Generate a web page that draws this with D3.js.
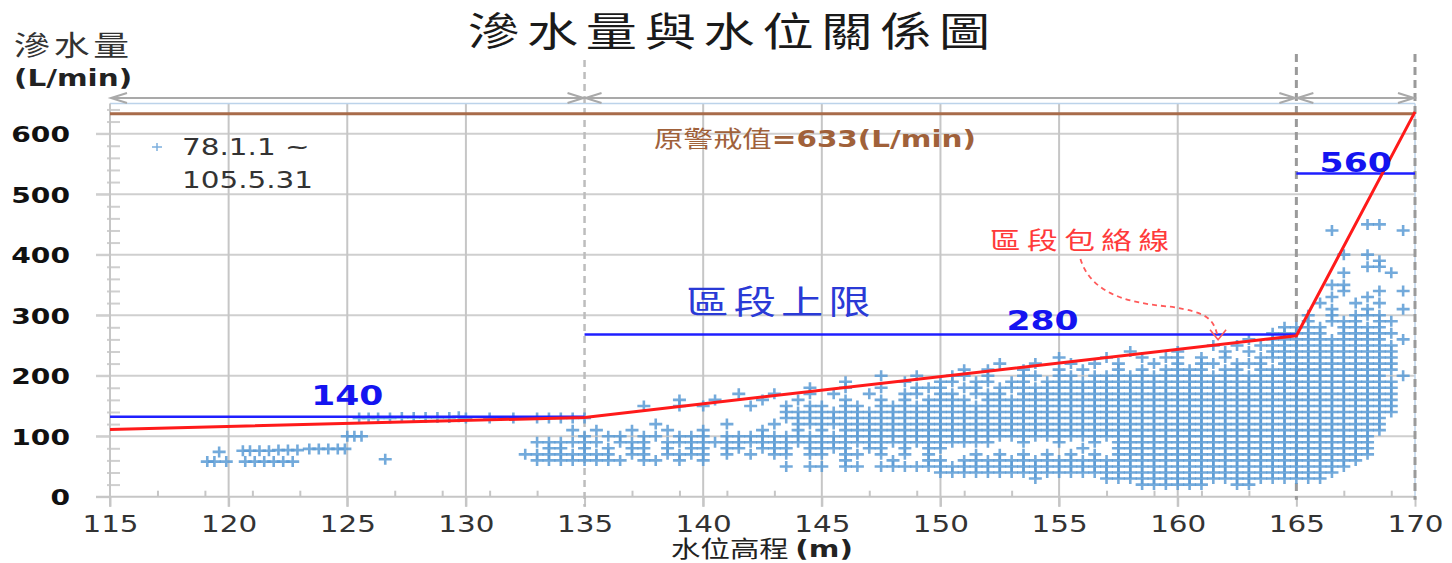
<!DOCTYPE html>
<html>
<head>
<meta charset="utf-8">
<title>滲水量與水位關係圖</title>
<script src="https://d3js.org/d3.v7.min.js"></script>
<style>
  body { margin: 0; background: #fff; }
  svg { display: block; }
</style>
</head>
<body>
<svg id="chart" width="1452" height="563"></svg>
<script>
// ---------------- data ----------------
var xTicks = [115, 120, 125, 130, 135, 140, 145, 150, 155, 160, 165, 170];
var xMinor = [117, 119, 121, 123, 127, 129, 131, 133, 137, 139, 141, 143, 147, 149,
              151, 153, 157, 159, 161, 163, 167, 169];
var yTicks = [0, 100, 200, 300, 400, 500, 600];
var yMinor = [20, 40, 60, 80, 120, 140, 160, 180, 220, 240, 260, 280, 320, 340, 360, 380,
              420, 440, 460, 480, 520, 540, 560, 580, 620, 640];

var segBreaks = [115, 135, 165, 170];
var segLimits = [132, 268, 534];          // level where each 區段上限 line is drawn
var segLabels = ["140", "280", "560"];

var envelopeX = [115, 135, 165, 170];
var envelopeY = [111, 131, 266, 636];

var alarmValue = 633;

// isolated points (water level m, seepage L/min)
var sparsePts = [
  [119.1, 58], [119.4, 58], [119.9, 58], [119.6, 74],
  [120.7, 58], [121.1, 58], [121.5, 58], [121.9, 58], [122.3, 58], [122.7, 58],
  [120.6, 76], [120.9, 76], [121.3, 76], [121.7, 76], [122.1, 77], [122.5, 77], [122.9, 77],
  [123.4, 79], [123.8, 79], [124.2, 79], [124.6, 79], [124.9, 79],
  [125.0, 100], [125.3, 100], [125.6, 100], [126.6, 62],
  [125.5, 130], [125.9, 130], [126.3, 130], [126.8, 130], [127.3, 131], [127.8, 131],
  [128.3, 131], [128.8, 131], [129.3, 131], [129.7, 132]
];

// dense cloud read row by row: one char per 0.5 m from 130.0 m, '+' = point
var cloudX0 = 130, cloudStep = 0.5;
var cloudRows = [
  [450, ".......... .......... .......... .......... .......... .......... .......... ......++.."],
  [440, ".......... .......... .......... .......... .......... .......... .......... ...+.....+"],
  [400, ".......... .......... .......... .......... .......... .......... .......... ....+.+..."],
  [390, ".......... .......... .......... .......... .......... .......... .......... .......+.."],
  [380, ".......... .......... .......... .......... .......... .......... .......... ......++.."],
  [370, ".......... .......... .......... .......... .......... .......... .......... ....+...+."],
  [350, ".......... .......... .......... .......... .......... .......... .......... ...++....."],
  [340, ".......... .......... .......... .......... .......... .......... .......... ....+..+.+"],
  [330, ".......... .......... .......... .......... .......... .......... .......... ...+..+..."],
  [320, ".......... .......... .......... .......... .......... .......... .......... ..+..+.+.."],
  [310, ".......... .......... .......... .......... .......... .......... .......... ...+..+..+"],
  [300, ".......... .......... .......... .......... .......... .......... .......... .+.+.+++.."],
  [290, ".......... .......... .......... .......... .......... .......... .......... .+.+++.++."],
  [280, ".......... .......... .......... .......... .......... .......... .........+ +++.++++.."],
  [270, ".......... .......... .......... .......... .......... .......... ........++ +++.+++++."],
  [260, ".......... .......... .......... .......... .......... .......... ......+.++ ++++++++.+"],
  [250, ".......... .......... .......... .......... .......... .......... ...+.+.+++ +++++++++."],
  [240, ".......... .......... .......... .......... .......... ......+... +...+.+.++ +++++++++."],
  [230, ".......... .......... .......... .......... .......... +...+..+.+ +.+.+..+++ +++++++++."],
  [220, ".......... .......... .......... .......... .....+..+. .+.+.+..+. +.++.+++.+ +++++++++."],
  [210, ".......... .......... .......... .......... ..+.+..+.. +.+..+.+.+ +++.++.+++ +++++++++."],
  [200, ".......... .......... .......... .....+..+. .++.+..++. ++.+++++++ ++++++++++ ++++++++.+"],
  [190, ".......... .......... .......... ..+....+.. ++.++.++.+ ++++++++++ ++++++++++ +++++++++."],
  [180, ".......... .......... .........+ ..+..+..++ +.++.+++++ ++++++++++ ++++++++++ +++++++++."],
  [170, ".......... .......... ...+..+..+ .+..+..++. ++.+++.+++ ++++++++++ ++++++++++ +++++++++."],
  [160, ".......... ........+. .+...+..+. ..+..+.+.+ +++.++++++ ++++++++++ ++++++++++ +++++++++."],
  [150, ".......... .....+..+. +...+..+.+ +.++.+++++ ++++++++++ ++++++++++ ++++++++++ +++++++++."],
  [140, ".......... .......... .......+++ ++++++++++ ++++++++++ ++++++++++ ++++++++++ +++++++++."],
  [130, "+.+.+.++++ +......... .......+++ ++++++++++ ++++++++++ ++++++++++ ++++++++++ ++++++++.."],
  [120, ".......... ......+... ..+...+.++ ++++++++++ ++++++++++ ++++++++++ ++++++++++ ++++++++.."],
  [110, ".........+ .+..+..+.. +....+..+. +.++++++++ ++++++++++ ++++++++++ ++++++++++ ++++++++.."],
  [100, ".......... +.++.++.++ +.++++++++ ++++++++++ ++++++++++ ++++++++++ ++++++++++ +++++++..."],
  [90,  "......++++ ++.+++.+++ ++++++++++ ++++++++++ +++++..+.. +..+.+++++ ++++++++++ +++++++..."],
  [80,  ".......++. +.+.++.+.+ +.++.+++.+ +++.++.+.+ +......... ..+..+++++ ++++++++++ +++++++..."],
  [70,  ".....+++++ +++.++.+++ +.+.+.++.+ +.++.+.+.+ ...+.+.+.+ .+.+.+++++ ++++++++++ +++++++..."],
  [60,  "......++++ ++++.++.+. +......... ..+...+..+ +.++++++++ ++++++++++ ++++++++++ ++++++...."],
  [50,  ".......... .......... .......+.+ +.++.+++++ ++++++++++ ++++++++++ ++++++++++ +++++....."],
  [40,  ".......... .......... .......... .......... ++++++++++ ++++++++++ ++++++++++ ++++......"],
  [30,  ".......... .......... .......... .......... ........+. ....++++++ ++++++++++ +++......."],
  [20,  ".......... .......... .......... .......... .......... .......+++ +++..++... .........."]
];

// ---------------- setup ----------------
var SX = 1.28;   // the source picture is stretched horizontally
var CJK = '"Noto Sans CJK TC", "Noto Sans CJK SC", sans-serif';
var LAT = '"DejaVu Sans", "Noto Sans", sans-serif';

var svg = d3.select("#chart");
var x = d3.scaleLinear().domain([115, 170]).range([110, 1415]);
var y = d3.scaleLinear().domain([0, 650]).range([496.7, 103.4]);

function txt(px, py, parts, size, anchor, color) {
  var t = svg.append("text")
    .attr("transform", "translate(" + px + "," + py + ") scale(" + SX + ",1)")
    .attr("text-anchor", anchor || "start")
    .attr("font-size", size)
    .attr("fill", color || "#222");
  parts.forEach(function (p) {
    t.append("tspan")
      .text(p.t)
      .attr("font-family", p.cjk ? CJK : LAT)
      .attr("font-weight", p.b ? "bold" : "normal")
      .attr("letter-spacing", p.ls || 0)
      .attr("font-size", p.size || size);
  });
  return t;
}

// ---------------- grid ----------------
svg.append("g").selectAll("line").data(yTicks.filter(d => d > 0)).enter().append("line")
  .attr("x1", 96).attr("x2", x(170))
  .attr("y1", d => y(d)).attr("y2", d => y(d))
  .attr("stroke", "#cfcfcf").attr("stroke-width", 2);

svg.append("g").selectAll("line").data(xTicks.filter(d => d != 115 && d != 135 && d != 165 && d != 170)).enter().append("line")
  .attr("x1", d => x(d)).attr("x2", d => x(d))
  .attr("y1", y(650)).attr("y2", y(0) + 10)
  .attr("stroke", "#c6c6c6").attr("stroke-width", 2);

// plot border (top / right)
svg.append("line").attr("x1", x(115)).attr("x2", x(170)).attr("y1", y(650)).attr("y2", y(650))
  .attr("stroke", "#bcd3ea").attr("stroke-width", 1.5);
svg.append("line").attr("x1", x(170)).attr("x2", x(170)).attr("y1", y(650)).attr("y2", y(0))
  .attr("stroke", "#bcd3ea").attr("stroke-width", 1.5);

// ---------------- axes ----------------
var xAxis = svg.append("g").attr("transform", "translate(0," + y(0) + ")")
  .call(d3.axisBottom(x).tickValues(xTicks).tickSize(10).tickSizeOuter(0));
xAxis.select(".domain").remove();
xAxis.selectAll(".tick line").attr("stroke", "#c6c6c6").attr("stroke-width", 2);
xAxis.selectAll(".tick text")
  .attr("font-family", LAT).attr("font-size", 23).attr("fill", "#333")
  .attr("y", 35).attr("dy", null)
  .attr("transform", "scale(" + SX + ",1)");

var xMin = svg.append("g").attr("transform", "translate(0," + y(0) + ")")
  .call(d3.axisBottom(x).tickValues(xMinor).tickSize(-6).tickFormat(""));
xMin.select(".domain").remove();
xMin.selectAll(".tick line").attr("stroke", "#c6c6c6").attr("stroke-width", 2);

var yAxis = svg.append("g").attr("transform", "translate(" + x(115) + ",0)")
  .call(d3.axisLeft(y).tickValues(yTicks).tickSize(14).tickSizeOuter(0));
yAxis.select(".domain").remove();
yAxis.selectAll(".tick line").attr("stroke", "#cfcfcf").attr("stroke-width", 2);
yAxis.selectAll(".tick text")
  .attr("font-family", LAT).attr("font-size", 22).attr("font-weight", "bold").attr("fill", "#111")
  .attr("x", 0).attr("y", 8).attr("dy", null)
  .attr("transform", "translate(-40,0) scale(" + SX + ",1)");

var yMin = svg.append("g").attr("transform", "translate(" + (x(115) - 3) + ",0)")
  .call(d3.axisRight(y).tickValues(yMinor).tickSize(13).tickFormat(""));
yMin.select(".domain").remove();
yMin.selectAll(".tick line").attr("stroke", "#cfcfcf").attr("stroke-width", 2);

// axis lines
svg.append("line").attr("x1", 96).attr("x2", x(170)).attr("y1", y(0)).attr("y2", y(0))
  .attr("stroke", "#c6c6c6").attr("stroke-width", 2);
svg.append("line").attr("x1", x(115)).attr("x2", x(115)).attr("y1", y(650)).attr("y2", y(0) + 10)
  .attr("stroke", "#c6c6c6").attr("stroke-width", 2);

// ---------------- segment dividers ----------------
svg.append("line").attr("x1", x(135)).attr("x2", x(135)).attr("y1", 60).attr("y2", y(0) + 10)
  .attr("stroke", "#bdbdbd").attr("stroke-width", 2.5).attr("stroke-dasharray", "7,5");
svg.append("g").selectAll("line").data([165, 170]).enter().append("line")
  .attr("x1", d => x(d)).attr("x2", d => x(d)).attr("y1", 54).attr("y2", y(0) + 3)
  .attr("stroke", "#9a9a9a").attr("stroke-width", 3).attr("stroke-dasharray", "8,5");

// double arrows above the plot
var arrowY = 98;
var arrows = svg.append("g").attr("stroke", "#a9a9a9").attr("stroke-width", 2).attr("fill", "none");
d3.range(segBreaks.length - 1).forEach(function (i) {
  var a = x(segBreaks[i]) + 1, b = x(segBreaks[i + 1]) - 1;
  arrows.append("line").attr("x1", a).attr("x2", b).attr("y1", arrowY).attr("y2", arrowY);
  arrows.append("path").attr("d", "M" + (a + 16) + "," + (arrowY - 5) + "L" + a + "," + arrowY + "L" + (a + 16) + "," + (arrowY + 5));
  arrows.append("path").attr("d", "M" + (b - 16) + "," + (arrowY - 5) + "L" + b + "," + arrowY + "L" + (b - 16) + "," + (arrowY + 5));
});

// ---------------- scatter ----------------
var pts = sparsePts.map(d => ({ x: d[0], y: d[1] }));
cloudRows.forEach(function (r) {
  var s = r[1].replace(/ /g, "");
  for (var i = 0; i < s.length; i++) {
    if (s[i] === "+") pts.push({ x: cloudX0 + i * cloudStep, y: r[0] });
  }
});
svg.append("g").selectAll("path").data(pts).enter().append("path")
  .attr("transform", d => "translate(" + x(d.x) + "," + y(d.y) + ")")
  .attr("d", "M-6.5,0H6.5M0,-5.5V5.5")
  .attr("stroke", "#5b9bd5").attr("stroke-width", 2.6).attr("stroke-opacity", 0.85);

// ---------------- alarm line ----------------
svg.append("line").attr("x1", x(115)).attr("x2", x(170)).attr("y1", y(alarmValue)).attr("y2", y(alarmValue))
  .attr("stroke", "#a86b4a").attr("stroke-width", 3);

// ---------------- segment upper limits ----------------
svg.append("g").selectAll("line").data(segLimits).enter().append("line")
  .attr("x1", (d, i) => x(segBreaks[i])).attr("x2", (d, i) => x(segBreaks[i + 1]))
  .attr("y1", d => y(d)).attr("y2", d => y(d))
  .attr("stroke", "#1f1fff").attr("stroke-width", 2.5);

// ---------------- envelope ----------------
var env = envelopeX.map((d, i) => [d, envelopeY[i]]);
svg.append("path").datum(env)
  .attr("d", d3.line().x(d => x(d[0])).y(d => y(d[1])))
  .attr("fill", "none").attr("stroke", "#ff1a1a").attr("stroke-width", 3);

// curved pointer to the envelope
var p0 = [x(155.9), y(393)], p1 = [x(161.7), y(261)];
var cp = d3.path();
cp.moveTo(p0[0], p0[1]);
cp.bezierCurveTo(p0[0] + 12, p0[1] + 40, p0[0] + 60, p0[1] + 45, p0[0] + 92, p0[1] + 48);
cp.bezierCurveTo(p0[0] + 125, p0[1] + 54, p1[0] - 4, p1[1] - 22, p1[0], p1[1]);
svg.append("path").attr("d", cp.toString())
  .attr("fill", "none").attr("stroke", "#ff5a5a").attr("stroke-width", 1.8).attr("stroke-dasharray", "5,4");
svg.append("path")
  .attr("d", "M" + (p1[0] - 8) + "," + (p1[1] - 9) + "L" + p1[0] + "," + (p1[1] + 1) + "L" + (p1[0] + 8) + "," + (p1[1] - 9))
  .attr("fill", "none").attr("stroke", "#ff5a5a").attr("stroke-width", 1.6);

// ---------------- texts ----------------
txt(733, 46, [{ t: "滲水量與水位關係圖", cjk: 1, ls: 6 }], 40, "middle", "#1a1a1a");
txt(14, 56, [{ t: "滲水量", cjk: 1, ls: 3 }], 28, "start", "#333");
txt(14, 86, [{ t: "(L/min)", b: 1 }], 23, "start", "#222");

// legend
svg.append("path").attr("transform", "translate(157,147)").attr("d", "M-5,0H5M0,-4V4")
  .attr("stroke", "#5b9bd5").attr("stroke-width", 1.5).attr("stroke-opacity", 0.8);
txt(182, 155, [{ t: "78.1.1 ~" }], 23, "start", "#333");
txt(182, 188, [{ t: "105.5.31" }], 23, "start", "#333");

txt(815, 147, [{ t: "原警戒值", cjk: 1 }, { t: "=633(L/min)", b: 1 }], 23, "middle", "#a0613a");

txt(781, 314, [{ t: "區段上限", cjk: 1, ls: 4 }], 33, "middle", "#2a3ad6");
var labelAt = [[125, 12], [154.3, 5], [167.5, 2]];
segLabels.forEach(function (s, i) {
  txt(x(labelAt[i][0]), y(segLimits[i]) - labelAt[i][1], [{ t: s, b: 1 }], 27, "middle", "#1414f0");
});

txt(990, 249, [{ t: "區段包絡線", cjk: 1, ls: 5 }], 24, "start", "#ff3a3a");

txt(762, 557, [{ t: "水位高程 ", cjk: 1 }, { t: "(m)", b: 1 }], 23, "middle", "#222");
</script>
</body>
</html>
